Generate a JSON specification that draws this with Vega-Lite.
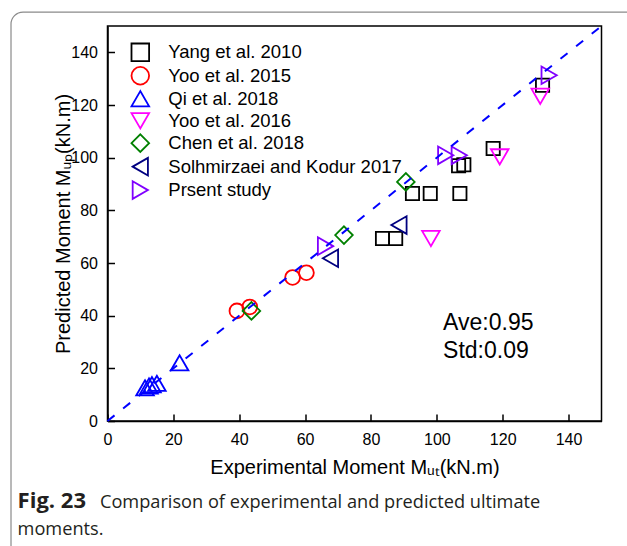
{
  "$schema": "https://vega.github.io/schema/vega-lite/v6.json",
  "width": 494,
  "height": 395,
  "autosize": {"type": "none"},
  "padding": {"left": 107.5, "top": 26, "right": 25.5, "bottom": 125},
  "background": "white",
  "config": {
    "view": {"stroke": "black", "strokeWidth": 1.5},
    "font": "Liberation Sans"
  },
  "datasets": {
    "points": [
      {"series": "Yang et al. 2010", "experimental": 83.5, "predicted": 69.3},
      {"series": "Yang et al. 2010", "experimental": 87.5, "predicted": 69.3},
      {"series": "Yang et al. 2010", "experimental": 92.6, "predicted": 86.4},
      {"series": "Yang et al. 2010", "experimental": 98.0, "predicted": 86.4},
      {"series": "Yang et al. 2010", "experimental": 107.0, "predicted": 86.4},
      {"series": "Yang et al. 2010", "experimental": 106.6, "predicted": 96.9},
      {"series": "Yang et al. 2010", "experimental": 108.2, "predicted": 97.3},
      {"series": "Yang et al. 2010", "experimental": 117.1, "predicted": 103.5},
      {"series": "Yang et al. 2010", "experimental": 132.1, "predicted": 127.5},
      {"series": "Yoo et al. 2015", "experimental": 39.3, "predicted": 41.8},
      {"series": "Yoo et al. 2015", "experimental": 43.2, "predicted": 43.3},
      {"series": "Yoo et al. 2015", "experimental": 56.2, "predicted": 54.5},
      {"series": "Yoo et al. 2015", "experimental": 60.4, "predicted": 56.3},
      {"series": "Qi et al. 2018", "experimental": 11.4, "predicted": 12.6},
      {"series": "Qi et al. 2018", "experimental": 12.6, "predicted": 13.3},
      {"series": "Qi et al. 2018", "experimental": 13.5, "predicted": 13.8},
      {"series": "Qi et al. 2018", "experimental": 15.0, "predicted": 14.3},
      {"series": "Qi et al. 2018", "experimental": 21.9, "predicted": 22.1},
      {"series": "Yoo et al. 2016", "experimental": 98.2, "predicted": 69.3},
      {"series": "Yoo et al. 2016", "experimental": 119.1, "predicted": 100.3},
      {"series": "Yoo et al. 2016", "experimental": 131.4, "predicted": 123.3},
      {"series": "Chen et al. 2018", "experimental": 43.7, "predicted": 41.8},
      {"series": "Chen et al. 2018", "experimental": 71.8, "predicted": 70.6},
      {"series": "Chen et al. 2018", "experimental": 90.6, "predicted": 90.8},
      {"series": "Solhmirzaei and Kodur 2017", "experimental": 67.7, "predicted": 61.8},
      {"series": "Solhmirzaei and Kodur 2017", "experimental": 88.5, "predicted": 74.4},
      {"series": "Prsent study", "experimental": 66.2, "predicted": 66.4},
      {"series": "Prsent study", "experimental": 102.7, "predicted": 100.9},
      {"series": "Prsent study", "experimental": 106.8, "predicted": 100.9},
      {"series": "Prsent study", "experimental": 134.1, "predicted": 131.3}
    ],
    "line": [
      {"experimental": 0, "predicted": 0},
      {"experimental": 150, "predicted": 150}
    ],
    "stats": [
      {"label": "Ave:0.95"},
      {"label": "Std:0.09"}
    ],
    "one": [{"k": 1}]
  },
  "layer": [
    {
      "data": {"name": "one"},
      "mark": {"type": "rect", "clip": false, "fill": null, "stroke": "#8a8a8a", "strokeWidth": 1.2, "cornerRadius": 12},
      "encoding": {
        "x": {"datum": -29.3},
        "x2": {"datum": 175},
        "y": {"datum": 155.3},
        "y2": {"datum": -70}
      }
    },
    {
      "data": {"name": "points"},
      "mark": {"type": "point", "filled": false, "strokeWidth": 1.8, "opacity": 1},
      "encoding": {
        "x": {
          "field": "experimental",
          "type": "quantitative",
          "scale": {"domain": [0, 150], "nice": false, "zero": false},
          "axis": {
            "values": [0, 10, 20, 30, 40, 50, 60, 70, 80, 90, 100, 110, 120, 130, 140],
            "labelExpr": "datum.value % 20 === 0 ? datum.label : ''",
            "tickSize": {"condition": {"test": "datum.value % 20 === 0", "value": -7}, "value": -4},
            "labelPadding": 17,
            "labelFontSize": 16,
            "labelColor": "black",
            "labelOverlap": false,
            "labelFlush": false,
            "domainColor": "black",
            "domainWidth": 1.5,
            "tickColor": "black",
            "tickWidth": 1.5,
            "grid": false,
            "title": "Experimental Moment Mᵤₜ(kN.m)",
            "titleFontSize": 20,
            "titleFontWeight": "normal",
            "titleColor": "black",
            "titlePadding": 10
          }
        },
        "y": {
          "field": "predicted",
          "type": "quantitative",
          "scale": {"domain": [0, 150], "nice": false, "zero": false},
          "axis": {
            "values": [0, 10, 20, 30, 40, 50, 60, 70, 80, 90, 100, 110, 120, 130, 140],
            "labelExpr": "datum.value % 20 === 0 ? datum.label : ''",
            "tickSize": {"condition": {"test": "datum.value % 20 === 0", "value": -7}, "value": -4},
            "labelPadding": 17,
            "labelFontSize": 16,
            "labelColor": "black",
            "labelOverlap": false,
            "labelFlush": false,
            "domainColor": "black",
            "domainWidth": 1.5,
            "tickColor": "black",
            "tickWidth": 1.5,
            "grid": false,
            "title": "Predicted Moment Mᵤₚ(kN.m)",
            "titleFontSize": 20,
            "titleFontWeight": "normal",
            "titleColor": "black",
            "titlePadding": -3
          }
        },
        "color": {
          "field": "series",
          "type": "nominal",
          "scale": {
            "domain": ["Yang et al. 2010", "Yoo et al. 2015", "Qi et al. 2018", "Yoo et al. 2016", "Chen et al. 2018", "Solhmirzaei and Kodur 2017", "Prsent study"],
            "range": ["#000000", "#ff0000", "#0000ff", "#ff00ff", "#008000", "#000080", "#8000ff"]
          },
          "legend": {
            "title": null,
            "orient": "none",
            "direction": "vertical",
            "legendX": 22.8,
            "legendY": 16.3,
            "padding": 0,
            "labelFont": "Liberation Sans",
            "labelFontSize": 18.5,
            "labelColor": "black",
            "labelLimit": 400,
            "labelOffset": 18,
            "rowPadding": -2.55,
            "symbolSize": 310,
            "symbolStrokeWidth": 1.8,
            "encode": {
              "symbols": {
                "update": {
                  "size": {"signal": "datum.value === 'Yang et al. 2010' ? 175 : datum.value === 'Yoo et al. 2015' ? 220 : 310"}
                }
              }
            }
          }
        },
        "shape": {
          "field": "series",
          "type": "nominal",
          "scale": {
            "domain": ["Yang et al. 2010", "Yoo et al. 2015", "Qi et al. 2018", "Yoo et al. 2016", "Chen et al. 2018", "Solhmirzaei and Kodur 2017", "Prsent study"],
            "range": ["square", "circle", "triangle-up", "triangle-down", "diamond", "triangle-left", "triangle-right"]
          }
        },
        "size": {
          "condition": [
            {"test": "datum.series === 'Yang et al. 2010'", "value": 175},
            {"test": "datum.series === 'Yoo et al. 2015'", "value": 220}
          ],
          "value": 310
        }
      }
    },
    {
      "data": {"name": "line"},
      "mark": {"type": "line", "color": "#0000ff", "strokeWidth": 2, "strokeDash": [9, 11]},
      "encoding": {
        "x": {"field": "experimental", "type": "quantitative"},
        "y": {"field": "predicted", "type": "quantitative"}
      }
    },
    {
      "data": {"name": "stats"},
      "transform": [{"filter": "datum.label === 'Ave:0.95'"}],
      "mark": {"type": "text", "align": "left", "baseline": "alphabetic", "fontSize": 23, "color": "black", "clip": false},
      "encoding": {
        "text": {"field": "label"},
        "x": {"datum": 101.9},
        "y": {"datum": 34.6}
      }
    },
    {
      "data": {"name": "stats"},
      "transform": [{"filter": "datum.label === 'Std:0.09'"}],
      "mark": {"type": "text", "align": "left", "baseline": "alphabetic", "fontSize": 23, "color": "black", "clip": false},
      "encoding": {
        "text": {"field": "label"},
        "x": {"datum": 101.9},
        "y": {"datum": 23.8}
      }
    },
    {
      "data": {"name": "one"},
      "mark": {"type": "text", "align": "left", "baseline": "alphabetic", "font": "Open Sans", "fontSize": 22, "fontWeight": "bold", "color": "#231f20", "clip": false, "text": "Fig. 23"},
      "encoding": {
        "x": {"datum": -27.3},
        "y": {"datum": -32.9}
      }
    },
    {
      "data": {"name": "one"},
      "mark": {"type": "text", "align": "left", "baseline": "alphabetic", "font": "Open Sans", "fontSize": 18.2, "color": "#231f20", "clip": false, "text": "Comparison of experimental and predicted ultimate"},
      "encoding": {
        "x": {"datum": -2.3},
        "y": {"datum": -32.9}
      }
    },
    {
      "data": {"name": "one"},
      "mark": {"type": "text", "align": "left", "baseline": "alphabetic", "font": "Open Sans", "fontSize": 18.2, "color": "#231f20", "clip": false, "text": "moments."},
      "encoding": {
        "x": {"datum": -27.3},
        "y": {"datum": -43.3}
      }
    }
  ]
}
